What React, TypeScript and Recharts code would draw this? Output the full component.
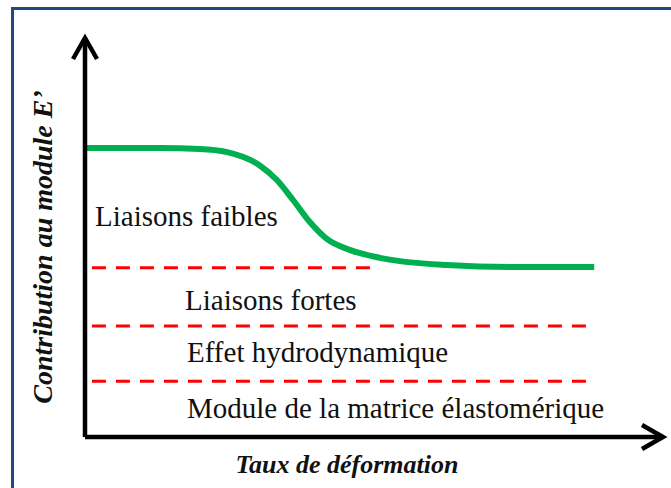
import { LineChart, Line, XAxis, YAxis, ReferenceLine } from "recharts";

// x / y in arbitrary units (0..100) for the schematic curve
const strainX = [0, 13, 19.9, 24.6, 30.3, 33.2, 36, 38.9, 41.9, 45.8, 51, 62.6, 74, 88.1];
const modulusY = [72.4, 72.4, 72.2, 71.4, 68, 64.4, 59.4, 53.9, 49.6, 46.9, 44.9, 43.1, 42.6, 42.6];

// dashed level lines: [level, xStart, xEnd]
const levelY = [42.4, 27.8, 14.0];
const levelStart = [1.2, 1.2, 1.2];
const levelEnd = [50.2, 88.2, 88.2];

const regionLabels = ["Liaisons faibles", "Liaisons fortes", "Effet hydrodynamique", "Module de la matrice élastomérique"];
const xTitle = "Taux de déformation";
const yTitle = "Contribution au module E’";

const data = strainX.map((x, i) => ({ x, y: modulusY[i] }));

const serif = "Liberation Serif";
const labelPos = [
  { x: 95, y: 226 },
  { x: 185, y: 310 },
  { x: 187, y: 362 },
  { x: 187, y: 418 },
];

export default function App() {
  return (
    <div style={{ position: "absolute", left: 0, top: 0, width: 671, height: 488, overflow: "hidden", background: "#fff" }}>
      <div
        style={{
          position: "absolute",
          left: 11,
          top: 7,
          width: 800,
          height: 600,
          border: "3px solid #1F4A7D",
        }}
      />
      <LineChart
        width={671}
        height={488}
        data={data}
        margin={{ top: 38, right: 8, bottom: 50, left: 84 }}
        style={{ position: "absolute", left: 0, top: 0 }}
      >
        <defs>
          <marker id="chev" markerUnits="userSpaceOnUse" refX={0} refY={0} orient="auto-start-reverse" overflow="visible" markerWidth={30} markerHeight={30}>
            <path d="M -21 -12 L 0 0 L -21 12" fill="none" stroke="#000" strokeWidth={4.5} strokeLinejoin="miter" />
          </marker>
        </defs>
        <XAxis
          type="number"
          dataKey="x"
          domain={[0, 100]}
          height={1}
          tick={false}
          tickLine={false}
          axisLine={{ stroke: "#000", strokeWidth: 4.5, markerEnd: "url(#chev)" }}
        />
        <YAxis
          type="number"
          domain={[0, 100]}
          width={1}
          tick={false}
          tickLine={false}
          axisLine={{ stroke: "#000", strokeWidth: 4.5, markerStart: "url(#chev)" }}
        />
        {levelY.map((y, i) => (
          <ReferenceLine
            key={i}
            segment={[
              { x: levelStart[i], y },
              { x: levelEnd[i], y },
            ]}
            stroke="#FF0000"
            strokeWidth={3}
            strokeDasharray="14 10"
          />
        ))}
        <Line type="monotone" dataKey="y" stroke="#00B050" strokeWidth={6} dot={false} activeDot={false} isAnimationActive={false} />
        {regionLabels.map((t, i) => (
          <text key={t} x={labelPos[i].x} y={labelPos[i].y} style={{ fontFamily: serif }} fontSize={29} fill="#111">
            {t}
          </text>
        ))}
        <text x={347} y={473} textAnchor="middle" style={{ fontFamily: serif }} fontSize={26} fontWeight="bold" fontStyle="italic" fill="#111">
          {xTitle}
        </text>
        <text
          x={52}
          y={247}
          textAnchor="middle"
          transform="rotate(-90 52 247)"
          style={{ fontFamily: serif }}
          fontSize={28}
          fontWeight="bold"
          fontStyle="italic"
          fill="#111"
        >
          {yTitle}
        </text>
      </LineChart>
    </div>
  );
}
